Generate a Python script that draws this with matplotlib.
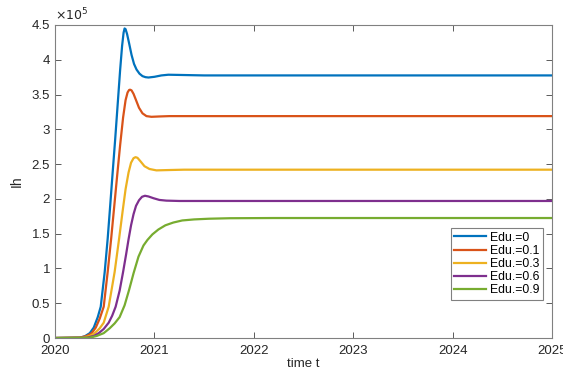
import matplotlib
matplotlib.use("Agg")
import matplotlib.pyplot as plt
import numpy as np

# values, Ih in units of 1e5
t_e0 = [2020.0, 2020.25, 2020.30, 2020.35, 2020.39, 2020.43, 2020.46, 2020.50, 2020.53,
        2020.555, 2020.58, 2020.605, 2020.63, 2020.655, 2020.675, 2020.69, 2020.70, 2020.71,
        2020.725, 2020.745, 2020.77, 2020.795, 2020.82, 2020.85, 2020.88, 2020.91, 2020.94,
        2021.0, 2021.07, 2021.14, 2021.25, 2021.5, 2025.0]
ih_e0 = [0.0, 0.005, 0.025, 0.07, 0.15, 0.30, 0.45, 0.95, 1.43,
         1.90, 2.38, 2.85, 3.35, 3.85, 4.20, 4.39, 4.45, 4.44,
         4.37, 4.24, 4.07, 3.94, 3.86, 3.80, 3.765, 3.75, 3.745,
         3.755, 3.775, 3.785, 3.782, 3.775, 3.775]

t_e1 = [2020.0, 2020.25, 2020.32, 2020.37, 2020.41, 2020.45, 2020.49, 2020.53, 2020.565,
        2020.595, 2020.625, 2020.655, 2020.685, 2020.71, 2020.73, 2020.745, 2020.755, 2020.77,
        2020.79, 2020.815, 2020.845, 2020.88, 2020.92, 2020.97, 2021.05, 2021.15, 2025.0]
ih_e1 = [0.0, 0.005, 0.03, 0.07, 0.15, 0.28, 0.45, 0.95, 1.43,
         1.88, 2.33, 2.77, 3.17, 3.42, 3.53, 3.565, 3.57, 3.56,
         3.51, 3.42, 3.31, 3.23, 3.19, 3.18, 3.185, 3.19, 3.19]

t_e3 = [2020.0, 2020.28, 2020.35, 2020.40, 2020.45, 2020.49, 2020.54, 2020.60, 2020.645,
        2020.68, 2020.71, 2020.74, 2020.765, 2020.79, 2020.81, 2020.83, 2020.86, 2020.90,
        2020.95, 2021.02, 2021.15, 2021.3, 2025.0]
ih_e3 = [0.0, 0.005, 0.03, 0.07, 0.14, 0.22, 0.45, 0.95, 1.43,
         1.82, 2.14, 2.38, 2.52, 2.585, 2.60, 2.59, 2.54, 2.47,
         2.43, 2.41, 2.415, 2.42, 2.42]

t_e6 = [2020.0, 2020.32, 2020.39, 2020.44, 2020.49, 2020.54, 2020.575, 2020.61, 2020.65,
        2020.685, 2020.715, 2020.74, 2020.765, 2020.79, 2020.815, 2020.845, 2020.875, 2020.905,
        2020.94, 2020.99, 2021.05, 2021.12, 2021.25, 2025.0]
ih_e6 = [0.0, 0.005, 0.03, 0.07, 0.13, 0.22, 0.32, 0.45, 0.68,
         0.95, 1.20, 1.42, 1.62, 1.78, 1.90, 1.98, 2.03, 2.045,
         2.035, 2.01, 1.985, 1.975, 1.97, 1.97]

t_e9 = [2020.0, 2020.35, 2020.42, 2020.49, 2020.55, 2020.60, 2020.65, 2020.70, 2020.745,
        2020.79, 2020.84, 2020.89, 2020.93, 2020.98, 2021.04, 2021.11, 2021.19, 2021.28,
        2021.40, 2021.55, 2021.76, 2022.2, 2025.0]
ih_e9 = [0.0, 0.005, 0.03, 0.07, 0.14, 0.21, 0.30, 0.47, 0.69,
         0.93, 1.17, 1.33, 1.41, 1.49, 1.56, 1.62, 1.66, 1.69,
         1.705, 1.715, 1.722, 1.725, 1.725]

labels = ["Edu.=0", "Edu.=0.1", "Edu.=0.3", "Edu.=0.6", "Edu.=0.9"]
colors = ["#0072BD", "#D95319", "#EDB120", "#7E2F8E", "#77AC30"]
series = [(t_e0, ih_e0), (t_e1, ih_e1), (t_e3, ih_e3), (t_e6, ih_e6), (t_e9, ih_e9)]

plt.rcParams['font.family'] = ['Liberation Sans', 'DejaVu Sans']
plt.rcParams['font.size'] = 9

fig = plt.figure(figsize=(5.63, 3.73), dpi=100)
ax = fig.add_axes([0.0977, 0.0938, 0.8828, 0.8392])

for (t, ih), lab, c in zip(series, labels, colors):
    ax.plot(t, ih, color=c, linewidth=1.6, label=lab, solid_joinstyle='round')

ax.set_xlim(2020, 2025)
ax.set_ylim(0, 4.5)
ax.set_xticks(np.arange(2020, 2026, 1))
ax.set_yticks(np.arange(0, 4.51, 0.5))
ax.set_yticklabels(['0', '0.5', '1', '1.5', '2', '2.5', '3', '3.5', '4', '4.5'])
ax.tick_params(direction='in', top=True, right=True, length=4, width=0.6,
               colors='#404040', labelcolor='#262626', labelsize=9.5)
ax.tick_params(axis='x', pad=5)
for s in ax.spines.values():
    s.set_color('#808080')
    s.set_linewidth(0.8)

ax.set_xlabel("time t", fontsize=9.5, color='#262626', labelpad=0.5)
ax.set_ylabel("Ih", fontsize=10, color='#262626', labelpad=6)
ax.text(0.0, 1.005, r"$\times10^5$", transform=ax.transAxes, fontsize=9,
        color='#262626', ha='left', va='bottom')

leg = ax.legend(loc='lower right', bbox_to_anchor=(0.982, 0.121), fontsize=8.8,
                handlelength=2.6, handletextpad=0.3, borderpad=0.3, labelspacing=0.1,
                borderaxespad=0, fancybox=False, framealpha=1)
leg.get_frame().set_edgecolor('#808080')
leg.get_frame().set_linewidth(0.8)

fig.savefig("out.png", dpi=100)
